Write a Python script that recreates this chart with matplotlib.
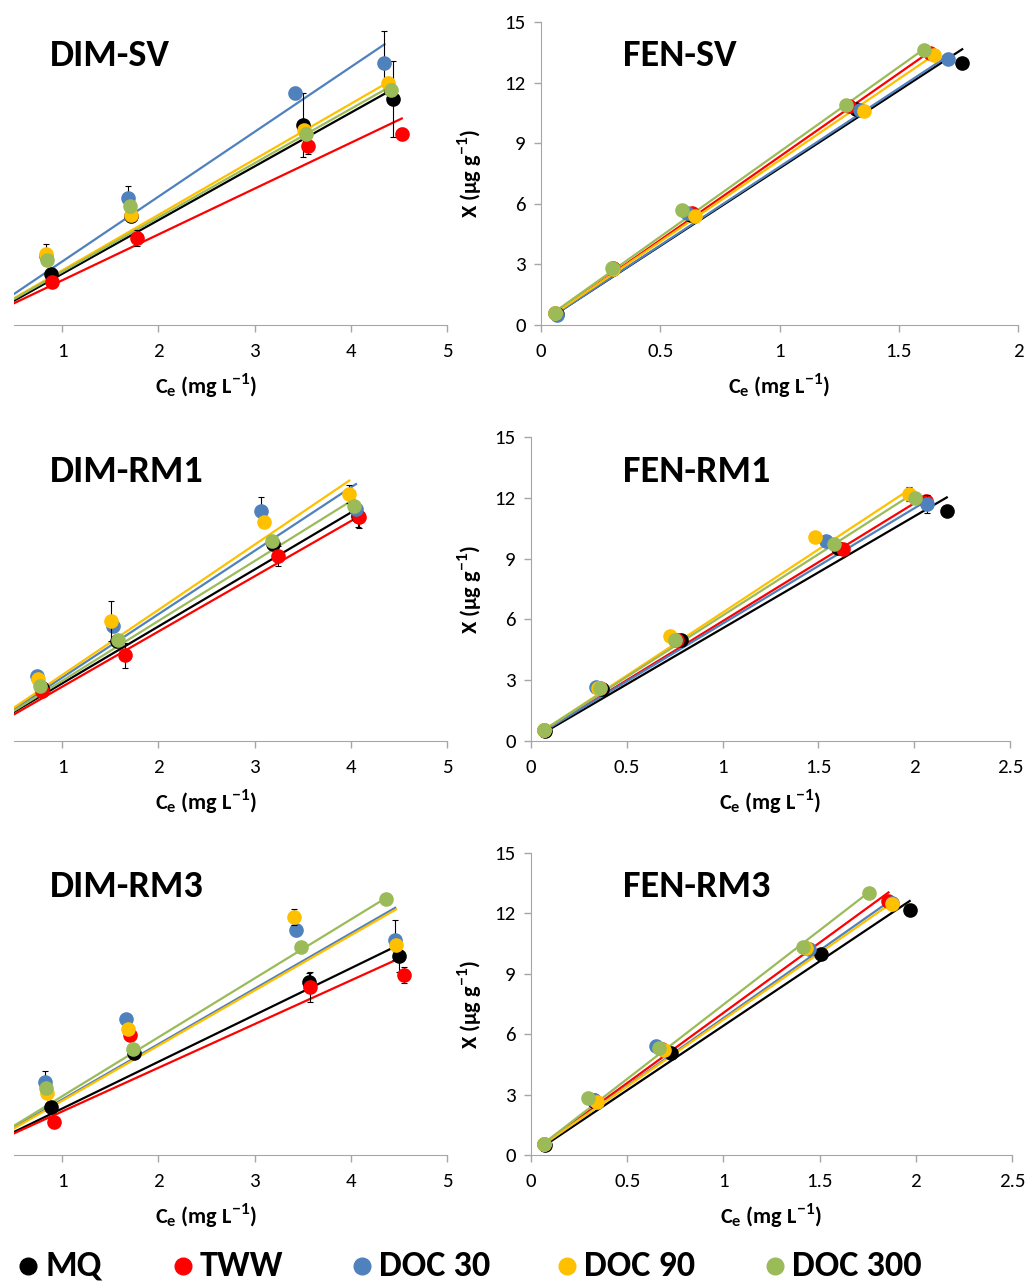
import numpy as np
import matplotlib
matplotlib.use("Agg")
import matplotlib.pyplot as plt
from matplotlib.lines import Line2D

plt.rcParams['font.family'] = ['Carlito', 'Lato', 'DejaVu Sans']
plt.rcParams['mathtext.fontset'] = 'custom'
plt.rcParams['mathtext.rm'] = 'Lato:bold'
plt.rcParams['mathtext.it'] = 'Lato:bold'
plt.rcParams['mathtext.bf'] = 'Lato:bold'
plt.rcParams['mathtext.default'] = 'rm'

series = ["MQ", "TWW", "DOC 30", "DOC 90", "DOC 300"]
colors = ["#000000", "#ff0000", "#4f81bd", "#ffc000", "#9bbb59"]

# ---------------- DIM-SV ----------------
dimsv_ce = [[0.88, 1.72, 3.50, 4.44],
            [0.90, 1.78, 3.56, 4.53],
            [0.83, 1.68, 3.42, 4.35],
            [0.83, 1.72, 3.51, 4.39],
            [0.84, 1.71, 3.53, 4.42]]
dimsv_x = [[2.52, 5.40, 9.90, 11.19],
           [2.15, 4.29, 8.85, 9.46],
           [3.40, 6.28, 11.47, 12.98],
           [3.53, 5.47, 9.66, 11.97],
           [3.20, 5.88, 9.45, 11.65]]
dimsv_err = [[0.2, 0.3, 1.6, 1.9],
             [0.2, 0.4, 0.4, 0.3],
             [0.2, 0.6, 0.3, 1.55],
             [0.5, 0.3, 0.3, 0.3],
             [0.2, 0.3, 0.3, 0.3]]
dimsv_slope = [2.66, 2.27, 3.21, 2.75, 2.69]
dimsv_icpt = [-0.13, -0.06, -0.07, -0.05, -0.06]

# ---------------- FEN-SV ----------------
fensv_ce = [[0.065, 0.30, 0.63, 1.32, 1.766],
            [0.06, 0.30, 0.634, 1.29, 1.63],
            [0.068, 0.30, 0.611, 1.336, 1.706],
            [0.06, 0.302, 0.646, 1.355, 1.648],
            [0.057, 0.299, 0.592, 1.28, 1.607]]
fensv_x = [[0.55, 2.78, 5.45, 10.70, 12.98],
           [0.58, 2.80, 5.52, 10.86, 13.45],
           [0.50, 2.78, 5.55, 10.64, 13.18],
           [0.58, 2.77, 5.42, 10.59, 13.38],
           [0.61, 2.82, 5.67, 10.89, 13.62]]
fensv_err = [[0.1, 0.1, 0.1, 0.1, 0.1]] * 5
fensv_slope = [7.69, 8.25, 7.77, 8.05, 8.40]
fensv_icpt = [0.07, 0.08, 0.06, 0.10, 0.17]

# ---------------- DIM-RM1 ----------------
dimrm1_ce = [[0.79, 1.574, 3.19, 4.078],
             [0.79, 1.65, 3.243, 4.089],
             [0.739, 1.532, 3.063, 4.054],
             [0.75, 1.511, 3.094, 3.984],
             [0.774, 1.584, 3.181, 4.037]]
dimrm1_x = [[2.60, 4.91, 9.71, 11.11],
            [2.48, 4.22, 9.13, 11.03],
            [3.21, 5.66, 11.36, 11.44],
            [3.04, 5.92, 10.83, 12.19],
            [2.73, 4.96, 9.87, 11.61]]
dimrm1_err = [[0.15, 0.2, 0.2, 0.55],
              [0.15, 0.6, 0.5, 0.5],
              [0.15, 0.3, 0.66, 0.3],
              [0.15, 1.0, 0.2, 0.45],
              [0.15, 0.2, 0.2, 0.2]]
dimrm1_slope = [2.81, 2.725, 3.127, 3.215, 2.956]
dimrm1_icpt = [0.03, -0.05, 0.0, 0.04, 0.01]

# ---------------- FEN-RM1 ----------------
fenrm1_ce = [[0.075, 0.372, 0.783, 1.60, 2.17],
             [0.07, 0.36, 0.764, 1.628, 2.062],
             [0.07, 0.34, 0.75, 1.542, 2.066],
             [0.07, 0.35, 0.723, 1.481, 1.972],
             [0.07, 0.358, 0.749, 1.579, 2.006]]
fenrm1_x = [[0.50, 2.58, 4.96, 9.54, 11.36],
            [0.52, 2.60, 4.99, 9.49, 11.86],
            [0.52, 2.68, 5.00, 9.87, 11.69],
            [0.56, 2.62, 5.16, 10.09, 12.19],
            [0.56, 2.60, 4.99, 9.71, 11.99]]
fenrm1_err = [[0.1, 0.1, 0.1, 0.1, 0.1],
              [0.1, 0.1, 0.1, 0.1, 0.3],
              [0.1, 0.1, 0.1, 0.1, 0.45],
              [0.1, 0.1, 0.1, 0.1, 0.35],
              [0.1, 0.1, 0.1, 0.1, 0.1]]
fenrm1_slope = [5.52, 5.82, 5.69, 6.22, 6.05]
fenrm1_icpt = [0.04, 0.09, 0.10, 0.12, 0.14]

# ---------------- DIM-RM3 ----------------
dimrm3_ce = [[0.885, 1.748, 3.567, 4.503],
             [0.92, 1.703, 3.581, 4.555],
             [0.826, 1.661, 3.435, 4.461],
             [0.843, 1.689, 3.407, 4.471],
             [0.837, 1.737, 3.487, 4.363]]
dimrm3_x = [[2.37, 5.09, 8.57, 9.86],
            [1.64, 5.97, 8.34, 8.92],
            [3.61, 6.76, 11.19, 10.69],
            [3.07, 6.25, 11.82, 10.44],
            [3.32, 5.27, 10.33, 12.73]]
dimrm3_err = [[0.2, 0.2, 0.45, 0.75],
              [0.2, 0.2, 0.75, 0.4],
              [0.58, 0.2, 0.3, 1.0],
              [0.2, 0.2, 0.42, 0.3],
              [0.2, 0.2, 0.2, 0.2]]
dimrm3_slope = [2.324, 2.17, 2.752, 2.74, 2.927]
dimrm3_icpt = [-0.02, -0.01, 0.0, -0.05, -0.01]

# ---------------- FEN-RM3 ----------------
fenrm3_ce = [[0.075, 0.33, 0.73, 1.509, 1.968],
             [0.07, 0.33, 0.68, 1.43, 1.858],
             [0.07, 0.33, 0.651, 1.447, 1.874],
             [0.07, 0.345, 0.689, 1.43, 1.877],
             [0.07, 0.296, 0.666, 1.415, 1.755]]
fenrm3_x = [[0.50, 2.70, 5.09, 9.98, 12.15],
            [0.55, 2.72, 5.25, 10.30, 12.60],
            [0.55, 2.73, 5.39, 10.23, 12.50],
            [0.55, 2.65, 5.22, 10.30, 12.48],
            [0.55, 2.82, 5.30, 10.33, 13.01]]
fenrm3_err = [[0.1, 0.1, 0.1, 0.1, 0.1]] * 5
fenrm3_slope = [6.40, 6.97, 6.72, 6.63, 7.38]
fenrm3_icpt = [0.02, 0.09, 0.08, 0.09, 0.09]

W, H = 1027, 1283
fig = plt.figure(figsize=(W / 100, H / 100), dpi=100)

def fbox(l, t, r, b):
    return [l / W, 1 - b / H, (r - l) / W, (b - t) / H]

spine_col = "#a6a6a6"
tick_fs = 15
lab_fs = 16
title_fs = 27.5

def draw(ax, ce, xx, err, slope, icpt, dim):
    for i in range(5):
        c = np.array(ce[i])
        x0 = 0.0 if dim else c.min()
        xl = np.array([x0, c.max()])
        ax.plot(xl, slope[i] * xl + icpt[i], color=colors[i], lw=1.6, zorder=2)
    for i in range(5):
        c = np.array(ce[i]); v = np.array(xx[i])
        ax.errorbar(c, v, yerr=err[i], fmt='none', ecolor='black', elinewidth=0.8,
                    capsize=2.5, capthick=0.8, zorder=3 + i * 0.1)
        ax.plot(c, v, 'o', color=colors[i], ms=9.5, mec=colors[i], zorder=3.05 + i * 0.1)

def style_common(ax):
    ax.set_ylim(0, 15)
    for s in ['top', 'right']:
        ax.spines[s].set_visible(False)
    ax.spines['bottom'].set_color(spine_col)
    ax.spines['left'].set_color(spine_col)
    ax.tick_params(axis='both', which='both', direction='out', length=5,
                   color=spine_col, labelsize=tick_fs, labelcolor='black', width=1)
    ax.tick_params(axis='x', pad=8)

xlabel = r"C$_{e}$ (mg L$^{-1}$)"
ylabel = "X (µg g$^{-1}$)"

# left panels
left_specs = [
    ((14, 22, 447, 325), "DIM-SV", dimsv_ce, dimsv_x, dimsv_err, dimsv_slope, dimsv_icpt),
    ((14, 437, 447, 741), "DIM-RM1", dimrm1_ce, dimrm1_x, dimrm1_err, dimrm1_slope, dimrm1_icpt),
    ((14, 853, 447, 1155), "DIM-RM3", dimrm3_ce, dimrm3_x, dimrm3_err, dimrm3_slope, dimrm3_icpt),
]
for box, title, ce, xx, err, sl, ic in left_specs:
    ax = fig.add_axes(fbox(*box))
    draw(ax, ce, xx, err, sl, ic, True)
    style_common(ax)
    ax.spines['left'].set_visible(False)
    ax.set_xlim(0.5, 5)
    ax.set_xticks([1, 2, 3, 4, 5])
    ax.set_xticklabels(["1", "2", "3", "4", "5"])
    ax.set_yticks([])
    ax.set_xlabel(xlabel, fontsize=lab_fs, fontweight='bold')
    ax.xaxis.set_label_coords(0.443, -0.155)
    ax.text(0.083, 0.888, title, transform=ax.transAxes, fontsize=title_fs,
            fontweight='bold', ha='left', va='center')

right_specs = [
    ((541, 22, 1018, 325), "FEN-SV", fensv_ce, fensv_x, fensv_err, fensv_slope, fensv_icpt,
     2.0, [0, 0.5, 1, 1.5, 2], ["0", "0.5", "1", "1.5", "2"]),
    ((531, 437, 1010, 741), "FEN-RM1", fenrm1_ce, fenrm1_x, fenrm1_err, fenrm1_slope, fenrm1_icpt,
     2.5, [0, 0.5, 1, 1.5, 2, 2.5], ["0", "0.5", "1", "1.5", "2", "2.5"]),
    ((531, 853, 1012, 1155), "FEN-RM3", fenrm3_ce, fenrm3_x, fenrm3_err, fenrm3_slope, fenrm3_icpt,
     2.5, [0, 0.5, 1, 1.5, 2, 2.5], ["0", "0.5", "1", "1.5", "2", "2.5"]),
]
for box, title, ce, xx, err, sl, ic, xmax, xt, xtl in right_specs:
    ax = fig.add_axes(fbox(*box))
    draw(ax, ce, xx, err, sl, ic, False)
    style_common(ax)
    ax.set_xlim(0, xmax)
    ax.set_xticks(xt)
    ax.set_xticklabels(xtl)
    ax.set_yticks([0, 3, 6, 9, 12, 15])
    ax.set_yticklabels(["0", "3", "6", "9", "12", "15"])
    ax.tick_params(axis='y', pad=6)
    ax.set_xlabel(xlabel, fontsize=lab_fs, fontweight='bold')
    ax.xaxis.set_label_coords(0.5, -0.155)
    ax.set_ylabel(ylabel, fontsize=lab_fs, fontweight='bold')
    ax.yaxis.set_label_coords((484 - box[0]) / (box[2] - box[0]), 0.5)
    tx = (623 - box[0]) / (box[2] - box[0])
    ax.text(tx, 0.888, title, transform=ax.transAxes, fontsize=title_fs,
            fontweight='bold', ha='left', va='center')

# legend
leg_mx = [28, 183, 362, 567, 775]
leg_y = 1 - 1266 / H
for i in range(5):
    fig.add_artist(Line2D([leg_mx[i] / W], [leg_y], marker='o', ms=12, color=colors[i],
                          ls='none', transform=fig.transFigure))
    fig.text((leg_mx[i] + 17) / W, leg_y, series[i], fontsize=26, fontweight='bold',
             ha='left', va='center')

fig.savefig("out.png", dpi=100)
